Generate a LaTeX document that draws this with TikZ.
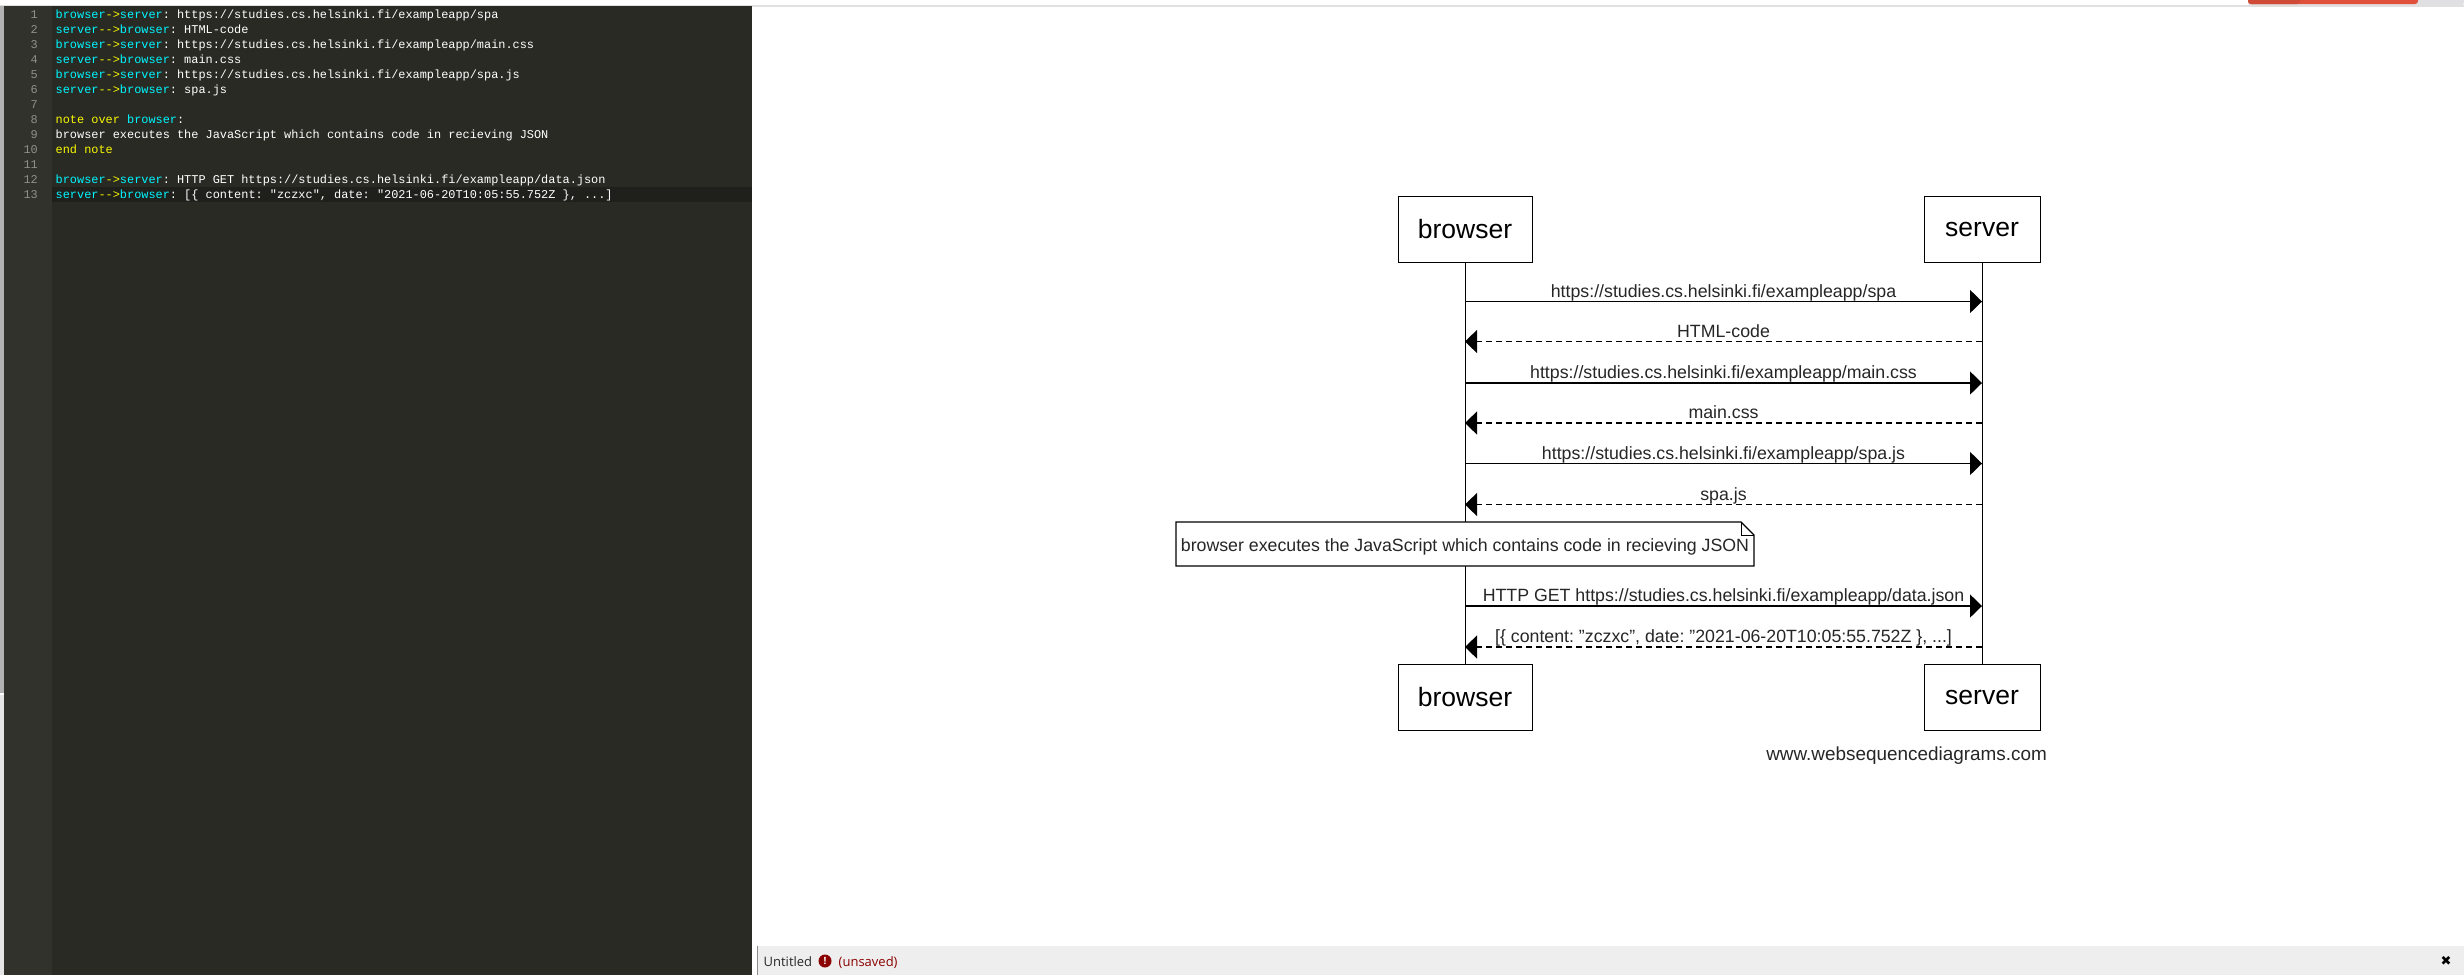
\documentclass[tikz,border=0pt]{standalone}
\usepackage{fontspec}
\setmainfont{Liberation Sans}
\newfontfamily\codefont{Liberation Mono}
\newfontfamily\uifont{Open Sans}
\newfontfamily\symfont{DejaVu Sans}
\usetikzlibrary{arrows.meta}
\definecolor{edbg}{HTML}{292A24}
\definecolor{gutterbg}{HTML}{31322B}
\definecolor{activeline}{HTML}{1F1F1C}
\definecolor{gnum}{HTML}{8F908A}
\definecolor{cy}{HTML}{00F6FF}
\definecolor{ye}{HTML}{F8F800}
\definecolor{barbg}{HTML}{EEEEEE}
\definecolor{dred}{HTML}{8B0000}
\definecolor{tabdark}{HTML}{CF4B38}
\definecolor{tabmain}{HTML}{E1503A}
\definecolor{tabgray}{HTML}{E0E0E2}
\newcommand{\Cy}[1]{\textcolor{cy}{#1}}
\newcommand{\Ye}[1]{\textcolor{ye}{#1}}
\newcommand{\Req}{\Cy{browser}\Ye{->}\Cy{server}: }
\newcommand{\Res}{\Cy{server}\Ye{-{}->}\Cy{browser}: }
\tikzset{
  x=1pt,y=-1pt,
  actor/.style={draw=black,fill=white,line width=1pt,minimum height=66pt,inner sep=0pt,font=\fontsize{26.5}{30}\selectfont},
  life/.style={draw=black,line width=1pt},
  msg/.style={draw=black,line width=1.4pt,-{Triangle[length=12pt,width=23pt]}},
  reply/.style={msg,dash pattern=on 6pt off 4pt},
  lbl/.style={anchor=base,inner sep=0pt,font=\fontsize{17.75}{20}\selectfont\frenchspacing,text=black!85},
  code/.style={anchor=base west,inner sep=0pt,text=white,font=\codefont\fontsize{11.9}{14}\selectfont\frenchspacing},
  num/.style={anchor=base east,inner sep=0pt,text=gnum,font=\codefont\fontsize{11.9}{14}\selectfont},
}
\begin{document}
\begin{tikzpicture}
\useasboundingbox (0,0) rectangle (2464,975);
\fill[white] (0,0) rectangle (2464,975);
% page chrome
\fill[black!12] (0,5) rectangle (2464,6.5);
\fill[black!30] (0,6) rectangle (4,693);
\fill[black!10] (0,695) rectangle (4,975);
\fill[edbg] (4,6) rectangle (752,975);
\fill[gutterbg] (4,6) rectangle (52,975);
\fill[activeline] (52,186.5) rectangle (752,201.5);
\fill[tabgray,rounded corners=3pt] (2248,-6) rectangle (2464,5.5);
\fill[tabmain,rounded corners=3pt] (2248,-6) rectangle (2418,4);
\fill[tabdark,rounded corners=3pt] (2248,-6) rectangle (2300,4);
% editor text
\foreach \n/\yy in {1/18,2/33,3/48,4/63,5/78,6/93,7/108,8/123,9/138,10/153,11/168,12/183,13/198}
  \node[num] (n\n) at (38,\yy) {\n};
\node[code] (c1) at (55.5,18) {\Req https://studies.cs.helsinki.fi/exampleapp/spa};
\node[code] (c2) at (55.5,33) {\Res HTML-code};
\node[code] (c3) at (55.5,48) {\Req https://studies.cs.helsinki.fi/exampleapp/main.css};
\node[code] (c4) at (55.5,63) {\Res main.css};
\node[code] (c5) at (55.5,78) {\Req https://studies.cs.helsinki.fi/exampleapp/spa.js};
\node[code] (c6) at (55.5,93) {\Res spa.js};
\node[code] (c8) at (55.5,123) {\Ye{note over} \Cy{browser}:};
\node[code] (c9) at (55.5,138) {browser executes the JavaScript which contains code in recieving JSON};
\node[code] (c10) at (55.5,153) {\Ye{end note}};
\node[code] (c12) at (55.5,183) {\Req HTTP GET https://studies.cs.helsinki.fi/exampleapp/data.json};
\node[code] (c13) at (55.5,198) {\Res [\{ content: "zczxc", date: "2021-06-20T10:05:55.752Z \}, ...]};
% status bar
\fill[barbg] (757,946) rectangle (2464,975);
\draw[black!45,line width=1pt] (757.5,946) -- (757.5,975);
\node[anchor=base west,inner sep=0pt,font=\uifont\fontsize{13}{15}\selectfont,text=black!85] (untitled) at (763.5,966) {Untitled};
\node[circle,fill=dred,minimum size=13pt,inner sep=0pt,text=white,font=\uifont\bfseries\fontsize{10}{10}\selectfont] (warn) at (825,961) {!};
\node[anchor=base west,inner sep=0pt,font=\uifont\fontsize{13}{15}\selectfont,text=dred] (unsaved) at (838.5,966) {(unsaved)};
\node[inner sep=0pt,font=\symfont\fontsize{13}{15}\selectfont,text=black] (closex) at (2446,961) {✖};
% sequence diagram
\node[actor,minimum width=134pt] (bt) at (1465,229) {browser};
\node[actor,minimum width=116pt] (st) at (1982,229) {server};
\node[actor,minimum width=134pt] (bb) at (1465,697) {browser};
\node[actor,minimum width=116pt] (sb) at (1982,697) {server};
\draw[life] (bt) -- (bb);
\draw[life] (st) -- (sb);
\foreach \i/\yy in {1/301.5,2/341.5,3/383,4/423,5/463.5,6/504.5,7/606,8/647}{
  \coordinate (b\i) at (bt |- 0,\yy);
  \coordinate (s\i) at (st |- 0,\yy);
}
\draw[msg] (b1) -- (s1);
\draw[reply] (s2) -- (b2);
\draw[msg] (b3) -- (s3);
\draw[reply] (s4) -- (b4);
\draw[msg] (b5) -- (s5);
\draw[reply] (s6) -- (b6);
\draw[msg] (b7) -- (s7);
\draw[reply] (s8) -- (b8);
\node[lbl] (m1) at (1723.5,297.5) {https://studies.cs.helsinki.fi/exampleapp/spa};
\node[lbl] (m2) at (1723.5,337.5) {HTML-code};
\node[lbl] (m3) at (1723.5,378.5) {https://studies.cs.helsinki.fi/exampleapp/main.css};
\node[lbl] (m4) at (1723.5,418.5) {main.css};
\node[lbl] (m5) at (1723.5,459) {https://studies.cs.helsinki.fi/exampleapp/spa.js};
\node[lbl] (m6) at (1723.5,500) {spa.js};
\node[lbl] (m7) at (1723.5,601.5) {HTTP GET https://studies.cs.helsinki.fi/exampleapp/data.json};
\node[lbl] (m8) at (1723.5,642.5) {[\{ content: "zczxc", date: "2021-06-20T10:05:55.752Z \}, ...]};
% note
\draw[fill=white,draw=black,line width=1.2pt] (1176,522) -- (1741,522) -- (1754,535) -- (1754,566) -- (1176,566) -- cycle;
\draw[draw=black,line width=1pt] (1741,522) -- (1741,535) -- (1754,535);
\node[lbl] (note) at (1465,551) {browser executes the JavaScript which contains code in recieving JSON};
\node[anchor=base east,inner sep=0pt,font=\fontsize{18.9}{22}\selectfont,text=black!85] (credit) at (2047,760) {www.websequencediagrams.com};
\end{tikzpicture}
\end{document}
